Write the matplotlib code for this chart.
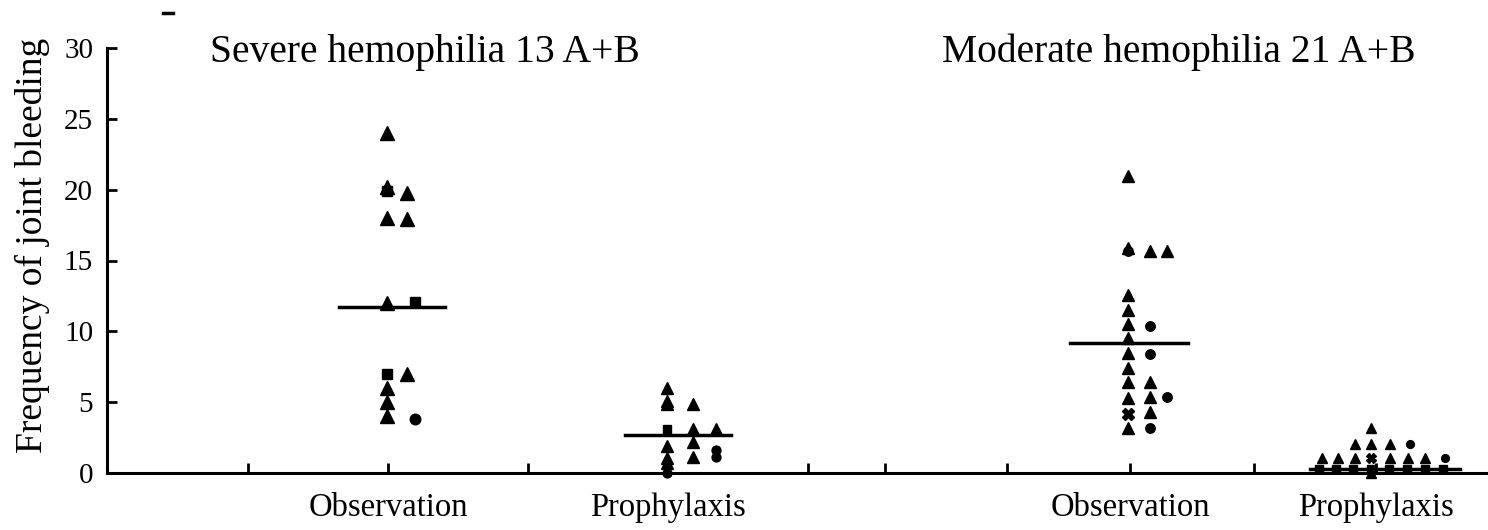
import matplotlib
matplotlib.use('Agg')
import matplotlib.pyplot as plt
from matplotlib.lines import Line2D

plt.rcParams['font.family'] = ['Liberation Serif', 'DejaVu Serif']

# values (frequency of joint bleeding)
sev_obs = [24, 20.2, 19.9, 19.8, 18, 17.9, 12, 12.1, 7, 7, 6, 5, 4, 3.8]
sev_pro = [6, 5.1, 4.9, 4.9, 3.1, 3.1, 3.1, 2.2, 1.9, 1.1, 1.05, 0.7, 1.6, 1.1, 0]
mod_obs = [21, 15.9, 15.7, 12.6, 11.5, 10.5, 9.5, 8.5, 7.4, 6.4, 5.3, 4.2, 3.2,
           15.7, 10.4, 8.4, 6.4, 5.4, 4.3, 3.2,
           15.7, 5.4]
mod_pro = [3.2,
           2.05, 2.05, 2.05, 2.05,
           1.05, 1.05, 1.05, 1.05, 1.05, 1.05, 1.05, 1.05,
           0.3, 0.3, 0.3, 0.3, 0.3, 0.3, 0.3, 0.3,
           0]
group_means = [11.7, 2.7, 9.2, 0.3]
group_titles = ['Severe hemophilia 13 A+B', 'Moderate hemophilia 21 A+B']
cat_labels = ['Observation', 'Prophylaxis']

# layout: horizontal offsets inside each column and marker shapes
sev_obs_off = [0, 0, 0, 20, 0, 20, 0, 28, 0, 20, 0, 0, 0, 28]
sev_obs_mk = ['^', '^', 's', '^', '^', '^', '^', 's', 's', '^', '^', '^', '^', 'o']
sev_pro_off = [0, 0, 0, 26, 0, 26, 49, 26, 0, 26, 0, 0, 49, 49, 0]
sev_pro_mk = ['^', '^', '^', '^', 's', '^', '^', '^', '^', '^', '^', '^', 'o', 'o', 'o']
mod_obs_off = [0] * 13 + [22] * 7 + [39] * 2
mod_obs_mk = ['^', '^', 'o', '^', '^', '^', '^', '^', '^', '^', '^', 'X', '^',
              '^', 'o', 'o', '^', '^', '^', 'o',
              '^', 'o']
mod_pro_off = [0,
               -16, 0, 19, 39,
               -49, -33, -16, 0, 19, 37, 54, 74,
               -52, -35, -18, 0, 18, 36, 54, 72,
               0]
mod_pro_mk = ['^',
              '^', '^', '^', 'o',
              '^', '^', '^', 'X', '^', '^', '^', 'o',
              's', 's', 's', 's', 's', 's', 's', 's',
              '^']

centers = [387, 667, 1128, 1371]
mean_spans = [(339, 445), (625, 731), (1070, 1188), (1310, 1460)]
xticks = [248, 388, 528, 668, 808, 885, 1007, 1130, 1254, 1376]
xticklabels = ['', cat_labels[0], '', cat_labels[1], '', '', '', cat_labels[0], '', cat_labels[1]]

fig = plt.figure(figsize=(14.88, 5.30), dpi=100)
ax = fig.add_axes([107 / 1488, 57 / 530, 1 - 107 / 1488, 425 / 530])

groups = [(sev_obs, sev_obs_off, sev_obs_mk, 9.5),
          (sev_pro, sev_pro_off, sev_pro_mk, 8.0),
          (mod_obs, mod_obs_off, mod_obs_mk, 8.5),
          (mod_pro, mod_pro_off, mod_pro_mk, 7.0)]

for (vals, offs, mks, ms), c in zip(groups, centers):
    for v, o, m in zip(vals, offs, mks):
        size = ms * 0.8 if m in ('s', 'o') else ms
        ax.plot(c + o, v, marker=m, color='black', markersize=size,
                linestyle='none', clip_on=False, zorder=3)

for (x0, x1), m in zip(mean_spans, group_means):
    ax.plot([x0, x1], [m, m], color='black', lw=2.5, zorder=2)

ax.text(210, 29.0, group_titles[0], fontsize=28.5, ha='left', va='baseline')
ax.text(942, 29.0, group_titles[1], fontsize=28.5, ha='left', va='baseline')

ax.set_xlim(107, 1488)
ax.set_ylim(0, 30)
ax.set_yticks(range(0, 31, 5))
ax.set_xticks(xticks)
ax.set_xticklabels(xticklabels)
ax.tick_params(axis='both', direction='in', length=7, width=2, colors='black')
ax.tick_params(axis='y', labelsize=21, pad=10)
ax.tick_params(axis='x', labelsize=23.5, pad=14)

for s in ['top', 'right']:
    ax.spines[s].set_visible(False)
for s in ['left', 'bottom']:
    ax.spines[s].set_linewidth(2.2)

ax.set_ylabel('Frequency of joint bleeding', fontsize=27)
ax.yaxis.set_label_coords(-0.041, 0.536)

# stray dash at the top left of the original figure
fig.add_artist(Line2D([163 / 1488, 173 / 1488], [1 - 13 / 530, 1 - 13 / 530],
                      color='black', lw=2.5))

fig.savefig('out.png', dpi=100)
